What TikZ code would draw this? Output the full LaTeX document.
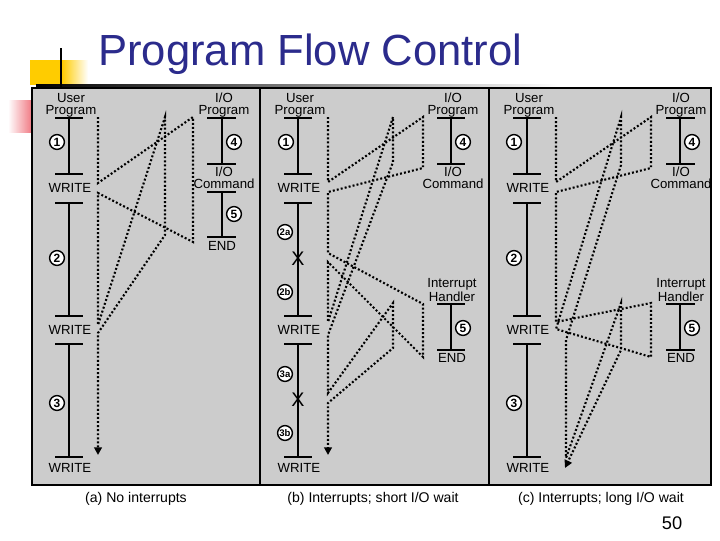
\documentclass[tikz,border=0pt]{standalone}
\usepackage{fontspec}
\setmainfont{Liberation Sans}
\usetikzlibrary{arrows.meta}
\definecolor{titleblue}{RGB}{43,43,140}
\definecolor{panelgray}{RGB}{204,204,204}
\definecolor{slideyellow}{RGB}{255,204,0}
\definecolor{slidepink}{RGB}{240,120,130}

\begin{document}
\begin{tikzpicture}[x=0.025cm, y=-0.025cm]
  \tikzset{
    lbl/.style={font=\fontsize{9.4}{8.6}\selectfont, align=center, inner sep=0pt},
    num/.style={circle, draw, line width=1pt, fill=white, minimum size=0.37cm,
                inner sep=0pt, font=\fontsize{8.5}{9}\selectfont\bfseries},
    subnum/.style={num, font=\fontsize{6.8}{7}\selectfont\bfseries},
    cross/.style={font=\fontsize{14}{14}\selectfont, inner sep=0pt},
    bar/.style={line width=0.9pt},
    flow/.style={line width=1.5pt, dash pattern=on 1.4pt off 1.5pt},
    flowend/.style={flow, -{Triangle[length=5.5pt,width=5.5pt]}},
    panel/.style={fill=panelgray, line width=2pt},
    caption/.style={font=\fontsize{10}{12}\selectfont}
  }
  \fill[white] (0,0) rectangle (720,540);
  \useasboundingbox (0,0) rectangle (720,540);

  % slide decoration
  \shade[left color=white, right color=slidepink] (8,100) rectangle (32,132);
  \fill[slideyellow] (30,60) rectangle (62,85);
  \shade[left color=slideyellow, right color=white] (62,60) rectangle (88,85);
  \shade[left color=black, right color=white] (36,84) rectangle (560,86.5);
  \draw[line width=1.4pt] (61,48) -- (61,90);
  \node[anchor=base west, text=titleblue, font=\fontsize{31}{36}\selectfont, inner sep=0pt]
    (title) at (98,65) {Program Flow Control};

  \draw[panel] (32,88) rectangle (260,485);
  \draw[panel] (260,88) rectangle (489,485);
  \draw[panel] (489,88) rectangle (711,485);

  % (a) no interrupts
  \node[lbl] (aUser) at (71,105.5) {User\\Program};
  \draw[bar] (55,118) -- (83,118) (69,118) -- (69,174) (55,174) -- (83,174);
  \node[lbl] (aWrite1) at (70,188) {WRITE};
  \draw[bar] (55,203) -- (83,203) (69,203) -- (69,316) (55,316) -- (83,316);
  \node[lbl] (aWrite2) at (70,330) {WRITE};
  \draw[bar] (55,344) -- (83,344) (69,344) -- (69,457) (55,457) -- (83,457);
  \node[lbl] (aWrite3) at (70,468) {WRITE};
  \node[num] (aOne) at (57,142) {1};
  \node[num] (aTwo) at (57,258) {2};
  \node[num] (aThree) at (57,403) {3};

  \node[lbl] (aIO) at (224,105.5) {I/O\\Program};
  \draw[bar] (207,118) -- (236,118) (222,118) -- (222,164) (207,164) -- (236,164);
  \node[lbl] (aCmd) at (224,178) {I/O\\Command};
  \draw[bar] (207,192) -- (236,192) (222,192) -- (222,237) (207,237) -- (236,237);
  \node[lbl] (aEnd) at (222,246) {END};
  \node[num] (aFour) at (234,142) {4};
  \node[num] (aFive) at (234,214) {5};

  \coordinate (a1) at (98,117);  \coordinate (a2) at (98,183);
  \coordinate (a3) at (193,117); \coordinate (a4) at (193,242);
  \coordinate (a5) at (98,193);  \coordinate (a6) at (98,325);
  \coordinate (a7) at (165,117); \coordinate (a8) at (165,235);
  \coordinate (a9) at (98,333);  \coordinate (a10) at (98,455);
  \draw[flowend] (a1) -- (a2) -- (a3) -- (a4) -- (a5) -- (a6) -- (a7) -- (a8) -- (a9) -- (a10);

  % (b) short I/O wait
  \node[lbl] (bUser) at (300,105.5) {User\\Program};
  \draw[bar] (284,118) -- (312,118) (298,118) -- (298,174) (284,174) -- (312,174);
  \node[lbl] (bWrite1) at (299,188) {WRITE};
  \draw[bar] (284,203) -- (312,203) (298,203) -- (298,316) (284,316) -- (312,316);
  \node[lbl] (bWrite2) at (299,330) {WRITE};
  \draw[bar] (284,344) -- (312,344) (298,344) -- (298,457) (284,457) -- (312,457);
  \node[lbl] (bWrite3) at (299,468) {WRITE};
  \node[num] (bOne) at (286,142) {1};
  \node[subnum] (bTwoA) at (285,232) {2a};
  \node[cross] (bCrossA) at (298,259) {X};
  \node[subnum] (bTwoB) at (285,292) {2b};
  \node[subnum] (bThreeA) at (285,374) {3a};
  \node[cross] (bCrossB) at (298,400) {X};
  \node[subnum] (bThreeB) at (285,433) {3b};

  \node[lbl] (bIO) at (453,105.5) {I/O\\Program};
  \draw[bar] (437,118) -- (465,118) (451,118) -- (451,164) (437,164) -- (465,164);
  \node[lbl] (bCmd) at (453,178) {I/O\\Command};
  \node[num] (bFour) at (463,142) {4};
  \node[lbl] (bHandler) at (452,290) {Interrupt\\Handler};
  \draw[bar] (437,304) -- (465,304) (451,304) -- (451,350) (437,350) -- (465,350);
  \node[lbl] (bEnd) at (452,358) {END};
  \node[num] (bFive) at (463,328) {5};

  \coordinate (b1) at (328,117);  \coordinate (b2) at (328,182);
  \coordinate (b3) at (423,117);  \coordinate (b4) at (423,168);
  \coordinate (b5) at (328,192);  \coordinate (b6) at (328,253);
  \coordinate (b7) at (423,304);  \coordinate (b8) at (423,357);
  \coordinate (b9) at (328,262);  \coordinate (b10) at (328,322);
  \coordinate (b11) at (393,117); \coordinate (b12) at (393,162);
  \coordinate (b13) at (328,335); \coordinate (b14) at (328,393);
  \coordinate (b15) at (393,303); \coordinate (b16) at (393,348);
  \coordinate (b17) at (328,403); \coordinate (b18) at (328,455);
  \draw[flowend] (b1) -- (b2) -- (b3) -- (b4) -- (b5) -- (b6) -- (b7) -- (b8) -- (b9)
    -- (b10) -- (b11) -- (b12) -- (b13) -- (b14) -- (b15) -- (b16) -- (b17) -- (b18);

  % (c) long I/O wait
  \node[lbl] (cUser) at (529,105.5) {User\\Program};
  \draw[bar] (513,118) -- (541,118) (527,118) -- (527,174) (513,174) -- (541,174);
  \node[lbl] (cWrite1) at (528,188) {WRITE};
  \draw[bar] (513,203) -- (541,203) (527,203) -- (527,316) (513,316) -- (541,316);
  \node[lbl] (cWrite2) at (528,330) {WRITE};
  \draw[bar] (513,344) -- (541,344) (527,344) -- (527,457) (513,457) -- (541,457);
  \node[lbl] (cWrite3) at (528,468) {WRITE};
  \node[num] (cOne) at (514,142) {1};
  \node[num] (cTwo) at (514,258) {2};
  \node[num] (cThree) at (514,403) {3};

  \node[lbl] (cIO) at (681,105.5) {I/O\\Program};
  \draw[bar] (666,118) -- (695,118) (680,118) -- (680,164) (666,164) -- (695,164);
  \node[lbl] (cCmd) at (681,178) {I/O\\Command};
  \node[num] (cFour) at (692,142) {4};
  \node[lbl] (cHandler) at (681,290) {Interrupt\\Handler};
  \draw[bar] (666,304) -- (695,304) (680,304) -- (680,350) (666,350) -- (695,350);
  \node[lbl] (cEnd) at (681,358) {END};
  \node[num] (cFive) at (692,328) {5};

  \coordinate (c1) at (556,117);  \coordinate (c2) at (556,182);
  \coordinate (c3) at (651,117);  \coordinate (c4) at (651,168);
  \coordinate (c5) at (556,192);  \coordinate (c6) at (556,322);
  \coordinate (c7) at (651,303);  \coordinate (c8) at (651,357);
  \coordinate (c9) at (556,329);  \coordinate (c10) at (621,117);
  \coordinate (c11) at (621,165); \coordinate (c12) at (566,340);
  \coordinate (c13) at (566,458); \coordinate (c14) at (621,303);
  \coordinate (c15) at (621,350); \coordinate (c16) at (565,468);
  \draw[flowend] (c1) -- (c2) -- (c3) -- (c4) -- (c5) -- (c6) -- (c7) -- (c8) -- (c9)
    -- (c10) -- (c11) -- (c12) -- (c13) -- (c14) -- (c15) -- (c16);

  \node[caption] (capA) at (136,499) {(a) No interrupts};
  \node[caption] (capB) at (373,499) {(b) Interrupts; short I/O wait};
  \node[caption] (capC) at (601,499) {(c) Interrupts; long I/O wait};
  \node[font=\fontsize{13}{14}\selectfont] (page) at (672,523) {50};
\end{tikzpicture}
\end{document}
